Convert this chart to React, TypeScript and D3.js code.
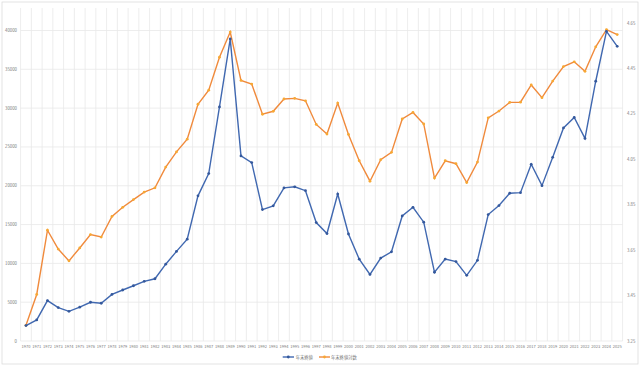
import React from "react";
import * as d3 from "d3";

const years: string[] = d3.range(1970, 2026).map((y) => String(y));
const closeValues: number[] = [
  1987, 2714, 5208, 4307, 3817, 4359, 4991, 4866, 6002, 6569,
  7116, 7682, 8017, 9894, 11543, 13113, 18701, 21564, 30159, 38916,
  23849, 22984, 16925, 17417, 19723, 19868, 19361, 15259, 13842, 18934,
  13786, 10543, 8579, 10677, 11489, 16111, 17226, 15308, 8860, 10546,
  10229, 8455, 10395, 16291, 17451, 19034, 19114, 22765, 20015, 23657,
  27444, 28792, 26095, 33464, 39895, 37960,
];
const logValues: number[] = [
  3.319, 3.455, 3.738, 3.655, 3.603, 3.66, 3.719, 3.708, 3.799, 3.839,
  3.873, 3.906, 3.925, 4.016, 4.083, 4.139, 4.293, 4.355, 4.5, 4.611,
  4.398, 4.382, 4.249, 4.262, 4.316, 4.319, 4.308, 4.204, 4.162, 4.298,
  4.16, 4.044, 3.954, 4.049, 4.081, 4.228, 4.257, 4.206, 3.968, 4.044,
  4.031, 3.948, 4.038, 4.233, 4.263, 4.301, 4.302, 4.378, 4.322, 4.395,
  4.459, 4.48, 4.438, 4.546, 4.622, 4.6,
];
const leftTicks: number[] = [0, 5000, 10000, 15000, 20000, 25000, 30000, 35000, 40000];
const rightTicks: number[] = [3.25, 3.45, 3.65, 3.85, 4.05, 4.25, 4.45, 4.65];
const seriesNames: string[] = ["年末終値", "年末終値対数"];

const W = 640;
const H = 367;
const plotLeft = 20.6;
const plotRight = 622.6;
const plotTop = 8;
const plotBottom = 341;
const blue = "#4068b0";
const blueMarker = "#34589c";
const orange = "#f08a3c";
const orangeMarker = "#f7a833";
const textColor = "#7a7a7a";
const gridColor = "#e9e9e9";
const font = "'Noto Sans CJK JP', 'Noto Sans', sans-serif";
const fs = 4.3;

export default function App() {
  const x = d3.scaleBand<string>().domain(years).range([plotLeft, plotRight]);
  const cx = (y: string) => (x(y) as number) + x.bandwidth() / 2;
  const yL = d3.scaleLinear().domain([0, 42900]).range([plotBottom, plotTop]);
  const yR = d3.scaleLinear().domain([3.25, 3.25 + (plotBottom - plotTop) / 227]).range([plotBottom, plotTop]);
  const yRLabel = d3.scaleLinear().domain([3.25, 4.65]).range([341, 23]);

  const lineL = d3.line<number>().x((_, i) => cx(years[i])).y((d) => yL(d));
  const lineR = d3.line<number>().x((_, i) => cx(years[i])).y((d) => yR(d));

  const boundaries = d3.range(0, years.length + 1).map((i) => plotLeft + i * x.bandwidth());

  return (
    <svg width={W} height={H} style={{ position: "absolute", left: 0, top: 0 }} fontFamily={font}>
      <rect x={0} y={0} width={W} height={H} fill="#fff" />
      <rect x={2} y={2} width={636} height={362} fill="none" stroke="#dcdcdc" strokeWidth={0.8} />
      {boundaries.map((bx, i) => (
        <line key={"v" + i} x1={bx} x2={bx} y1={plotTop} y2={plotBottom} stroke={gridColor} strokeWidth={0.8} />
      ))}
      {leftTicks.map((t) => (
        <line key={"h" + t} x1={plotLeft} x2={plotRight} y1={yL(t)} y2={yL(t)} stroke={gridColor} strokeWidth={0.8} />
      ))}
      {leftTicks.map((t) => (
        <text key={"lt" + t} x={17} y={yL(t)} dy="0.35em" textAnchor="end" fontSize={fs} fill={textColor}>
          {t}
        </text>
      ))}
      {rightTicks.map((t) => (
        <text key={"rt" + t} x={627} y={yRLabel(t)} dy="0.35em" textAnchor="start" fontSize={fs} fill={textColor}>
          {t.toFixed(2)}
        </text>
      ))}
      {years.map((yr) => (
        <text key={"x" + yr} x={cx(yr)} y={347} dy="0.35em" textAnchor="middle" fontSize={fs - 0.3} fill={textColor}>
          {yr}
        </text>
      ))}
      <path d={lineR(logValues) || ""} fill="none" stroke={orange} strokeWidth={1.4} />
      {logValues.map((v, i) => (
        <circle key={"om" + i} cx={cx(years[i])} cy={yR(v)} r={1.4} fill={orangeMarker} />
      ))}
      <path d={lineL(closeValues) || ""} fill="none" stroke={blue} strokeWidth={1.4} />
      {closeValues.map((v, i) => (
        <circle key={"bm" + i} cx={cx(years[i])} cy={yL(v)} r={1.4} fill={blueMarker} />
      ))}
      <g>
        <line x1={282.7} x2={294} y1={357} y2={357} stroke={blue} strokeWidth={1.4} />
        <circle cx={288.3} cy={357} r={1.4} fill={blueMarker} />
        <text x={295.7} y={357} dy="0.35em" fontSize={fs} fill={textColor}>{seriesNames[0]}</text>
        <line x1={319} x2={330} y1={357} y2={357} stroke={orange} strokeWidth={1.4} />
        <circle cx={324.5} cy={357} r={1.4} fill={orangeMarker} />
        <text x={331} y={357} dy="0.35em" fontSize={fs} fill={textColor}>{seriesNames[1]}</text>
      </g>
    </svg>
  );
}
